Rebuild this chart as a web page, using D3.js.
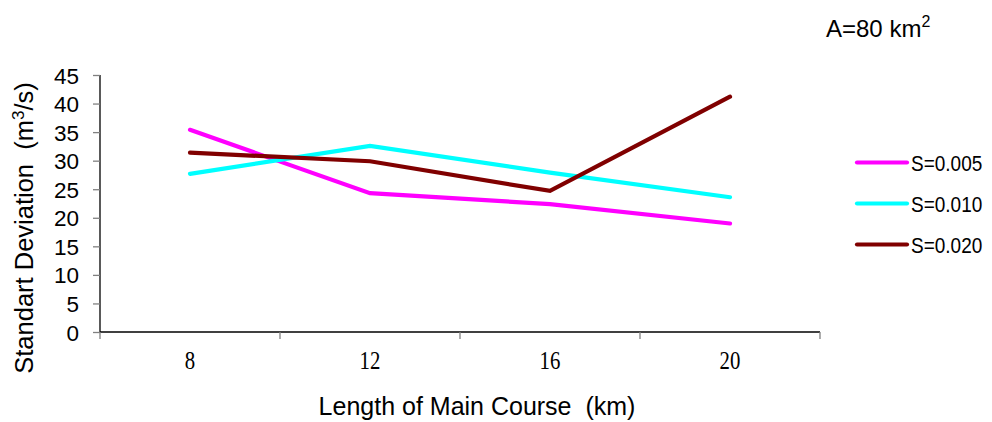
<!DOCTYPE html>
<html><head><meta charset="utf-8">
<script src="https://cdn.jsdelivr.net/npm/d3@7"></script>
<style>body{margin:0;background:#fff}svg{display:block}text{white-space:pre}</style>
</head><body>
<svg id="c" width="992" height="422"></svg>
<script>
const categories = ["8", "12", "16", "20"];
const s005 = [35.4, 24.3, 22.4, 19.0];
const s010 = [27.7, 32.6, 27.9, 23.6];
const s020 = [31.4, 29.9, 24.7, 41.2];
const seriesNames = ["S=0.005", "S=0.010", "S=0.020"];
const seriesColors = ["#FF00FF", "#00FFFF", "#800000"];
const yTicks = [0, 5, 10, 15, 20, 25, 30, 35, 40, 45];

const series = [s005, s010, s020].map((v, i) => ({name: seriesNames[i], color: seriesColors[i], values: v}));
const sans = "Liberation Sans, Arial, sans-serif";

const svg = d3.select("#c");
const x = d3.scaleBand().domain(categories).range([100, 820]);
const y = d3.scaleLinear().domain([0, 45]).range([332, 75]);

// y axis
const ya = svg.append("g").attr("transform", "translate(100,0)")
  .call(d3.axisLeft(y).tickValues(yTicks).tickSize(7).tickPadding(14));
ya.select(".domain").attr("stroke", "#000").attr("stroke-width", 1.3).attr("d", "M0,75V332");
ya.selectAll(".tick line").attr("stroke", "#808080").attr("stroke-width", 1.3);
ya.selectAll(".tick text").attr("font-family", sans).attr("font-size", 22.5).attr("fill", "#000").attr("dy", "0.36em");

// x axis
const xa = svg.append("g").attr("transform", "translate(0,332)")
  .call(d3.axisBottom(x).tickSize(0).tickPadding(0));
xa.select(".domain").attr("stroke", "#000").attr("stroke-width", 1.3).attr("d", "M100,0H820");
xa.selectAll(".tick text").attr("font-family", "Liberation Serif, Times New Roman, serif")
  .attr("font-size", 26).attr("fill", "#000").attr("y", 0).attr("dy", 0)
  .attr("transform", "translate(0,37) scale(0.8,1)");
const bounds = categories.map(c => x(c)).concat([x.range()[1]]);
xa.selectAll(".bt").data(bounds).enter().append("line").attr("class", "bt")
  .attr("x1", d => d).attr("x2", d => d).attr("y1", 0).attr("y2", 7)
  .attr("stroke", "#808080").attr("stroke-width", 1.3);

// lines
const line = d3.line().x((d, i) => x(categories[i]) + x.bandwidth() / 2).y(d => y(d));
svg.selectAll(".ser").data(series).enter().append("path").attr("class", "ser")
  .attr("d", d => line(d.values)).attr("fill", "none").attr("stroke", d => d.color)
  .attr("stroke-width", 4.2).attr("stroke-linecap", "round").attr("stroke-linejoin", "miter");

// legend
const lg = svg.selectAll(".lg").data(series).enter().append("g").attr("class", "lg")
  .attr("transform", (d, i) => `translate(857,${162.5 + i * 41})`);
lg.append("line").attr("x1", 0).attr("x2", 50).attr("y1", 0).attr("y2", 0)
  .attr("stroke", d => d.color).attr("stroke-width", 4.2).attr("stroke-linecap", "round");
lg.append("text").attr("transform", "translate(54,8) scale(1,1.12)").text(d => d.name)
  .attr("font-family", sans).attr("font-size", 19).attr("fill", "#000");

// titles
svg.append("text").attr("x", 477).attr("y", 415).attr("text-anchor", "middle")
  .attr("font-family", sans).attr("font-size", 25).attr("fill", "#000")
  .text("Length of Main Course  (km)");

const yt = svg.append("text").attr("transform", "translate(33,228) rotate(-90)").attr("text-anchor", "middle")
  .attr("font-family", sans).attr("font-size", 25.5).attr("fill", "#000");
yt.append("tspan").text("Standart Deviation  (m");
yt.append("tspan").attr("dy", -9).attr("font-size", 17).text("3");
yt.append("tspan").attr("dy", 9).text("/s)");

const at = svg.append("text").attr("x", 826).attr("y", 37)
  .attr("font-family", sans).attr("font-size", 24).attr("fill", "#000");
at.append("tspan").text("A=80 km");
at.append("tspan").attr("dy", -10).attr("font-size", 16).text("2");
</script>
</body></html>
